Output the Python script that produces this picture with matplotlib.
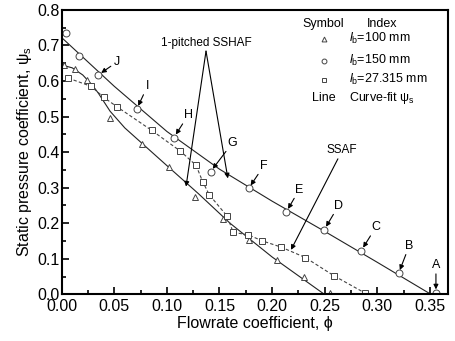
import numpy as np
import matplotlib
matplotlib.use("Agg")
import matplotlib.pyplot as plt
from matplotlib.ticker import MultipleLocator

plt.rcParams['font.family'] = ['Liberation Sans', 'DejaVu Sans']
plt.rcParams['mathtext.fontset'] = 'custom'
plt.rcParams['mathtext.rm'] = 'Liberation Sans'
plt.rcParams['mathtext.it'] = 'Liberation Sans:italic'

# measured points, lb = 100 mm (triangles)
tri_x = [0.002, 0.0124, 0.0243, 0.046, 0.0766, 0.102, 0.1267, 0.153, 0.1783, 0.2044, 0.2303, 0.2553]
tri_y = [0.646, 0.634, 0.603, 0.497, 0.422, 0.358, 0.274, 0.212, 0.153, 0.097, 0.048, 0.0045]

# lb = 150 mm (circles), labelled J..A
cir_x = [0.0038, 0.0167, 0.0348, 0.0713, 0.1067, 0.1416, 0.1778, 0.2135, 0.2496, 0.2848, 0.3203, 0.3558]
cir_y = [0.736, 0.670, 0.617, 0.521, 0.441, 0.345, 0.298, 0.2316, 0.1816, 0.123, 0.059, 0.004]

# lb = 27.315 mm (squares)
sq_x = [0.0063, 0.0279, 0.040, 0.0523, 0.0856, 0.1127, 0.1277, 0.134, 0.1403, 0.1575,
        0.163, 0.1774, 0.190, 0.2085, 0.2316, 0.2586, 0.2886]
sq_y = [0.608, 0.585, 0.554, 0.528, 0.461, 0.403, 0.363, 0.317, 0.280, 0.219,
        0.174, 0.1675, 0.151, 0.1328, 0.1034, 0.0525, 0.003]

# curve-fit lines
fit_cir_x = [0.0, 0.05, 0.10, 0.15, 0.20, 0.25, 0.30, 0.351]
fit_cir_y = [0.722, 0.585, 0.458, 0.352, 0.262, 0.177, 0.090, 0.0]
fit_tri_x = [0.0, 0.01, 0.02, 0.03, 0.035, 0.046, 0.06, 0.08, 0.10, 0.13, 0.16, 0.20, 0.2497]
fit_tri_y = [0.645, 0.637, 0.617, 0.585, 0.565, 0.515, 0.468, 0.415, 0.362, 0.283, 0.200, 0.105, 0.0]

letters = ['J', 'I', 'H', 'G', 'F', 'E', 'D', 'C', 'B', 'A']
letter_pts = cir_x[2:], cir_y[2:]
letter_pos = [(0.0523, 0.653), (0.0817, 0.586), (0.1203, 0.504), (0.1625, 0.4266), (0.1923, 0.362),
              (0.2259, 0.2946), (0.2633, 0.2494), (0.2988, 0.189), (0.3304, 0.1364), (0.3558, 0.082)]

fig = plt.figure(figsize=(4.55, 3.41), dpi=100)
ax = fig.add_axes([0.1356, 0.137, 0.8484, 0.834])

ax.plot(fit_cir_x, fit_cir_y, '-', color='#222222', lw=0.8)
ax.plot(fit_tri_x, fit_tri_y, '-', color='#222222', lw=0.8)
ax.plot(sq_x, sq_y, '--', color='#444444', lw=0.8, dashes=(3, 2))

mk = dict(ls='none', mfc='white', mec='#444444', mew=0.7)
ax.plot(tri_x, tri_y, marker='^', ms=5, **mk)
ax.plot(cir_x, cir_y, marker='o', ms=5, **mk)
ax.plot(sq_x, sq_y, marker='s', ms=4, **mk)

arr = dict(arrowstyle='-|>', color='k', lw=0.8, mutation_scale=7, shrinkA=0, shrinkB=2.5)
for lab, px, py, pos in zip(letters, letter_pts[0], letter_pts[1], letter_pos):
    ax.annotate(lab, xy=(px, py), xytext=pos, ha='center', va='center', fontsize=9,
                arrowprops=arr)

# 1-pitched SSHAF
ax.text(0.1372, 0.706, '1-pitched SSHAF', ha='center', va='center', fontsize=8.5)
arr2 = dict(arrowstyle='-|>', color='k', lw=0.8, mutation_scale=7, shrinkA=0, shrinkB=0)
ax.annotate('', xy=(0.1182, 0.303), xytext=(0.1372, 0.684), arrowprops=arr2)
ax.annotate('', xy=(0.158, 0.326), xytext=(0.1372, 0.684), arrowprops=arr2)

# SSAF
ax.text(0.2662, 0.405, 'SSAF', ha='center', va='center', fontsize=8.5)
ax.annotate('', xy=(0.218, 0.125), xytext=(0.2626, 0.381), arrowprops=arr2)

# legend table
tr = ax.transAxes
ax.text(0.678, 0.951, 'Symbol', transform=tr, ha='center', va='center', fontsize=9)
ax.text(0.829, 0.951, 'Index', transform=tr, ha='center', va='center', fontsize=9)
leg_rows = [('^', r'$\mathit{l}_\mathrm{b}$=100 mm', 0.898),
            ('o', r'$\mathit{l}_\mathrm{b}$=150 mm', 0.822),
            ('s', r'$\mathit{l}_\mathrm{b}$=27.315 mm', 0.754)]
for m, txt, yy in leg_rows:
    ax.plot([0.680], [yy], marker=m, ms=3.5, transform=tr, **mk)
    ax.text(0.745, yy, txt, transform=tr, ha='left', va='center', fontsize=9)
ax.text(0.680, 0.689, 'Line', transform=tr, ha='center', va='center', fontsize=9)
ax.text(0.745, 0.689, 'Curve-fit ψ$_\\mathrm{s}$', transform=tr, ha='left', va='center', fontsize=9)

ax.set_xlim(0, 0.367)
ax.set_ylim(0, 0.8)
ax.xaxis.set_major_locator(MultipleLocator(0.05))
ax.xaxis.set_minor_locator(MultipleLocator(0.025))
ax.yaxis.set_major_locator(MultipleLocator(0.1))
ax.yaxis.set_minor_locator(MultipleLocator(0.05))
ax.set_xticks([0, 0.05, 0.10, 0.15, 0.20, 0.25, 0.30, 0.35])
ax.set_xticklabels(['0.00', '0.05', '0.10', '0.15', '0.20', '0.25', '0.30', '0.35'])
ax.set_yticks([0, 0.1, 0.2, 0.3, 0.4, 0.5, 0.6, 0.7, 0.8])
ax.set_yticklabels(['0.0', '0.1', '0.2', '0.3', '0.4', '0.5', '0.6', '0.7', '0.8'])
ax.tick_params(which='both', direction='in', width=1.2, labelsize=11.5)
ax.tick_params(axis='x', pad=3.5)
ax.tick_params(axis='y', pad=1.5)
ax.tick_params(which='major', length=5)
ax.tick_params(which='minor', length=3)
for s in ax.spines.values():
    s.set_linewidth(1.5)

ax.set_xlabel('Flowrate coefficient, ϕ', fontsize=11.5, labelpad=1)
ax.set_ylabel('Static pressure coefficient, ψ$_\\mathrm{s}$', fontsize=11.5, labelpad=2)

fig.savefig('out.png', dpi=100)
